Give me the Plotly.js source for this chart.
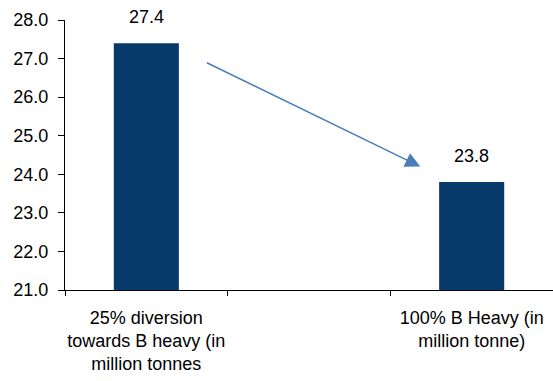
<!DOCTYPE html>
<html>
<head>
<meta charset="utf-8">
<script src="https://cdn.plot.ly/plotly-3.0.1.min.js"></script>
<style>html,body{margin:0;padding:0;background:#fff;}#chart{width:553px;height:381px;}</style>
</head>
<body>
<div id="chart"></div>
<script>
var categories = ["25% diversion<br>towards B heavy (in<br>million tonnes", " ", "100% B Heavy (in<br>million tonne)"];
var barCategories = [categories[0], categories[2]];
var values = [27.4, 23.8];
var valueLabels = ["27.4", "23.8"];
var yTicks = [21, 22, 23, 24, 25, 26, 27, 28];
var yTickText = ["21.0", "22.0", "23.0", "24.0", "25.0", "26.0", "27.0", "28.0"];
var arrowFrom = [0.363, 26.91];
var arrowTo = [1.684, 24.2];

var font = "Liberation Sans, Arial, sans-serif";
var data = [{
  type: "bar",
  x: barCategories,
  y: values,
  width: 0.4,
  marker: {color: "#073a6b"},
  hoverinfo: "none"
}];

var annotations = values.map(function (v, i) {
  return {x: barCategories[i], y: v, xref: "x", yref: "y", text: valueLabels[i], showarrow: false,
    yanchor: "bottom", yshift: 14, font: {family: font, size: 18, color: "#000"}};
});
annotations.push({
  x: arrowTo[0], y: arrowTo[1], ax: arrowFrom[0], ay: arrowFrom[1],
  xref: "x", yref: "y", axref: "x", ayref: "y", text: "", showarrow: true,
  arrowhead: 2, arrowsize: 2, arrowwidth: 1.5, arrowcolor: "#4a7ebb"
});

var layout = {
  width: 553, height: 381,
  margin: {l: 65, r: 0, t: 20, b: 91},
  paper_bgcolor: "#fff", plot_bgcolor: "#fff",
  showlegend: false,
  font: {family: font, size: 18, color: "#000"},
  xaxis: {
    type: "category", categoryorder: "array", categoryarray: categories,
    range: [-0.5, 2.5], tickson: "boundaries", ticks: "outside", ticklen: 5, tickcolor: "#000",
    tickangle: 0, ticklabelstandoff: 11,
    showline: true, linecolor: "#000", linewidth: 1, showgrid: false, zeroline: false,
    tickfont: {family: font, size: 18}, fixedrange: true
  },
  yaxis: {
    range: [21, 28], tickvals: yTicks, ticktext: yTickText, ticks: "outside", ticklen: 6, tickcolor: "#000",
    showline: true, linecolor: "#000", linewidth: 1, showgrid: false, zeroline: false,
    tickfont: {family: font, size: 18}, ticklabelstandoff: 6, fixedrange: true
  },
  annotations: annotations
};
Plotly.newPlot("chart", data, layout, {displayModeBar: false, staticPlot: true});
</script>
</body>
</html>
